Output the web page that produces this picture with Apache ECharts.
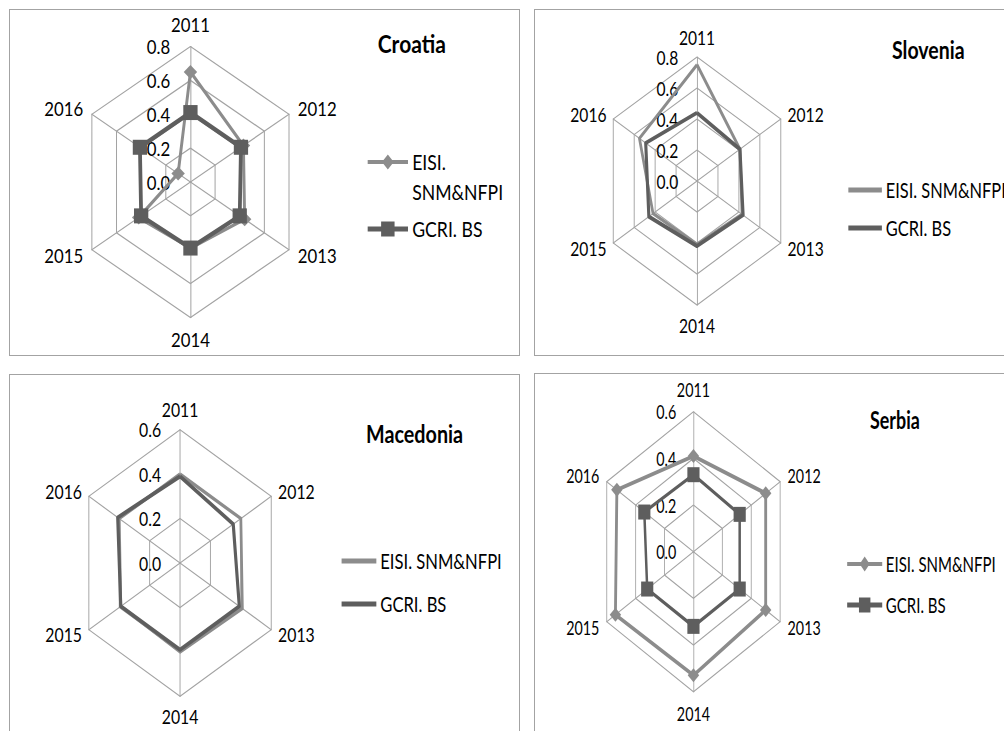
<!DOCTYPE html>
<html>
<head>
<meta charset="utf-8">
<title>Radar charts</title>
<script src="https://cdn.jsdelivr.net/npm/echarts@6/dist/echarts.min.js"></script>
<style>
  html, body { margin: 0; padding: 0; background: #fff; overflow: hidden; width: 1004px; height: 731px; position: relative; }
  .frame { position: absolute; border: 1.5px solid #a3a3a3; box-sizing: border-box; }
  .chart { position: absolute; transform-origin: 0 0; }
</style>
</head>
<body>
<div class="frame" style="left:9px;top:9px;width:511px;height:347px"></div>
<div class="frame" style="left:534px;top:9px;width:480px;height:347px"></div>
<div class="frame" style="left:9px;top:374px;width:511px;height:400px"></div>
<div class="frame" style="left:534px;top:373px;width:480px;height:400px"></div>
<div id="croatia" class="chart"></div>
<div id="slovenia" class="chart"></div>
<div id="macedonia" class="chart"></div>
<div id="serbia" class="chart"></div>
<script>
var years = ['2011', '2012', '2013', '2014', '2015', '2016'];
var seriesNames = ['EISI. SNM&NFPI', 'GCRI. BS'];
var tickStep = 0.2;

var croatiaEisi = [0.65, 0.43, 0.44, 0.39, 0.42, 0.10];
var croatiaGcri = [0.41, 0.41, 0.40, 0.39, 0.40, 0.41];
var sloveniaEisi = [0.75, 0.41, 0.43, 0.41, 0.42, 0.55];
var sloveniaGcri = [0.44, 0.41, 0.44, 0.42, 0.46, 0.49];
var macedoniaEisi = [0.40, 0.40, 0.41, 0.40, 0.39, 0.40];
var macedoniaGcri = [0.39, 0.35, 0.39, 0.39, 0.39, 0.41];
var serbiaEisi = [0.41, 0.50, 0.50, 0.53, 0.54, 0.53];
var serbiaGcri = [0.33, 0.32, 0.32, 0.32, 0.32, 0.34];

var EISI_COLOR = '#8c8c8c';
var GCRI_COLOR = '#5e5e5e';
var FONT = 'Lato';

// the pictures are squeezed sideways, each by its own amount
var panels = [
  { id: 'croatia', title: 'Croatia', eisi: croatiaEisi, gcri: croatiaGcri, max: 0.8, markers: true,
    left: 9, top: 9, w: 511, h: 347, sx: 0.84,
    cx: 216, cy: 173, r: 135.5, nameGap: 12, titleX: 439, titleY: 22,
    legX: 427, legW: 48, leg1: 108, leg2: 207, wrap: true, eisiW: 3.5, gcriW: 4.5 },
  { id: 'slovenia', title: 'Slovenia', eisi: sloveniaEisi, gcri: sloveniaGcri, max: 0.8, markers: false,
    left: 534, top: 9, w: 480, h: 347, sx: 0.78,
    cx: 209, cy: 172, r: 124, nameGap: 10, titleX: 459, titleY: 28,
    legX: 403, legW: 43, leg1: 168, leg2: 206, wrap: false, eisiW: 3.5, gcriW: 4 },
  { id: 'macedonia', title: 'Macedonia', eisi: macedoniaEisi, gcri: macedoniaGcri, max: 0.6, markers: false,
    left: 9, top: 374, w: 511, h: 360, sx: 0.79,
    cx: 216.5, cy: 189, r: 133.3, nameGap: 10, titleX: 452, titleY: 47,
    legX: 421, legW: 44, leg1: 174, leg2: 217, wrap: false, eisiW: 3.5, gcriW: 4 },
  { id: 'serbia', title: 'Serbia', eisi: serbiaEisi, gcri: serbiaGcri, max: 0.6, markers: true,
    left: 534, top: 373, w: 480, h: 360, sx: 0.715,
    cx: 223, cy: 178.7, r: 140, nameGap: 12, titleX: 470, titleY: 34,
    legX: 438, legW: 49, leg1: 178, leg2: 219, wrap: false, eisiW: 4, gcriW: 3.5 }
];

// radar goes counter-clockwise, the picture goes clockwise from the top
var order = [0, 5, 4, 3, 2, 1];
function reorder(arr) {
  return order.map(function (i) { return arr[i]; });
}

function legendIcon(kind, w, h) {
  var m = h / 2;
  if (kind === 'diamond') {
    return 'path://M0,' + (m - 2) + ' L' + w + ',' + (m - 2) + ' L' + w + ',' + (m + 2) + ' L0,' + (m + 2) + ' Z ' +
      'M' + (w / 2) + ',0 L' + (w / 2 + 7) + ',' + m + ' L' + (w / 2) + ',' + h + ' L' + (w / 2 - 7) + ',' + m + ' Z';
  }
  if (kind === 'rect') {
    return 'path://M0,' + (m - 2.5) + ' L' + w + ',' + (m - 2.5) + ' L' + w + ',' + (m + 2.5) + ' L0,' + (m + 2.5) + ' Z ' +
      'M' + (w / 2 - 8) + ',0 L' + (w / 2 + 8) + ',0 L' + (w / 2 + 8) + ',' + h + ' L' + (w / 2 - 8) + ',' + h + ' Z';
  }
  return 'rect';
}

function buildOption(p) {
  var indicator = order.map(function (i, k) {
    var ind = { name: years[i], min: 0, max: p.max };
    if (k === 0) ind.axisLabel = { show: true };
    return ind;
  });
  var iconH = p.markers ? 15 : 5;
  var textStyle = { color: '#000', fontSize: 21, fontFamily: FONT, lineHeight: 26 };
  var legendBase = {
    left: p.legX, orient: 'vertical', padding: 0, itemWidth: p.legW, itemHeight: iconH,
    selectedMode: false, textStyle: textStyle
  };
  var leg1 = Object.assign({}, legendBase, {
    top: p.leg1,
    data: [{ name: seriesNames[0], icon: legendIcon(p.markers ? 'diamond' : 'line', p.legW, iconH),
      itemStyle: { color: EISI_COLOR, borderWidth: 0 } }]
  });
  if (p.wrap) {
    // empty first line so that "EISI." sits level with the icon
    leg1.formatter = function () { return ' \nEISI.\nSNM&NFPI'; };
    leg1.textStyle = Object.assign({}, textStyle, { lineHeight: 30 });
  }
  var leg2 = Object.assign({}, legendBase, {
    top: p.leg2,
    data: [{ name: seriesNames[1], icon: legendIcon(p.markers ? 'rect' : 'line', p.legW, iconH),
      itemStyle: { color: GCRI_COLOR, borderWidth: 0 } }]
  });

  return {
    animation: false,
    title: {
      text: p.title, left: p.titleX, top: p.titleY, padding: 0,
      textStyle: { color: '#000', fontSize: 25, fontWeight: 'bold', fontFamily: FONT }
    },
    legend: [leg1, leg2],
    radar: {
      center: [p.cx, p.cy],
      radius: p.r,
      startAngle: 90,
      splitNumber: Math.round(p.max / tickStep),
      shape: 'polygon',
      nameGap: p.nameGap,
      axisName: { color: '#000', fontSize: 20, fontFamily: FONT },
      axisLine: { lineStyle: { color: '#a3a3a3', width: 1.2 } },
      splitLine: { lineStyle: { color: '#a3a3a3', width: 1.2 } },
      splitArea: { show: false },
      axisTick: { show: false },
      axisLabel: {
        show: false, color: '#000', fontSize: 20, fontFamily: FONT, margin: 24,
        formatter: function (v) { return v.toFixed(1); }
      },
      indicator: indicator
    },
    series: [{
      type: 'radar',
      data: [
        { name: seriesNames[0], value: reorder(p.eisi),
          symbol: p.markers ? 'diamond' : 'none', symbolSize: [16, 14],
          itemStyle: { color: EISI_COLOR }, lineStyle: { color: EISI_COLOR, width: p.eisiW } },
        { name: seriesNames[1], value: reorder(p.gcri),
          symbol: p.markers ? 'rect' : 'none', symbolSize: [17, 15],
          itemStyle: { color: GCRI_COLOR }, lineStyle: { color: GCRI_COLOR, width: p.gcriW } }
      ]
    }]
  };
}

panels.forEach(function (p) {
  var el = document.getElementById(p.id);
  el.style.left = p.left + 'px';
  el.style.top = p.top + 'px';
  el.style.width = Math.round(p.w / p.sx) + 'px';
  el.style.height = p.h + 'px';
  el.style.transform = 'scaleX(' + p.sx + ')';
  var chart = echarts.init(el, null, { renderer: 'svg' });
  chart.setOption(buildOption(p));
});
</script>
</body>
</html>
